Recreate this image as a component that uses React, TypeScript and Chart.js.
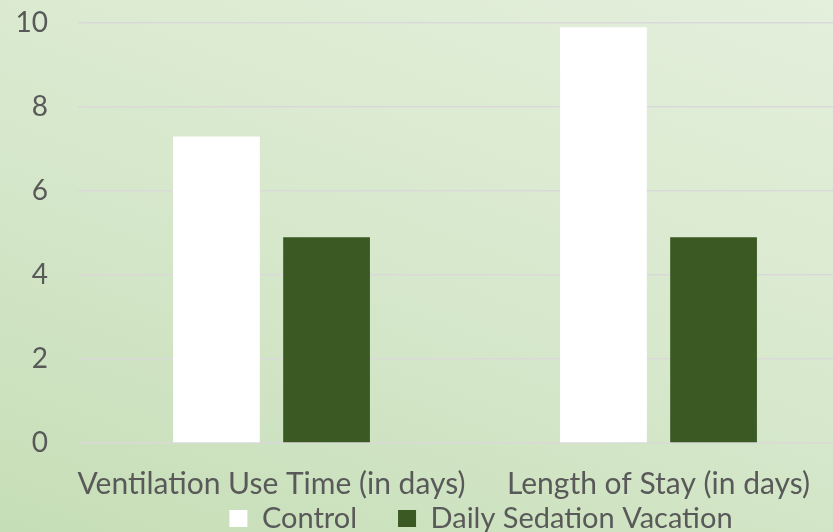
import React, { useEffect, useRef } from "react";
import { Chart, registerables } from "chart.js";

Chart.register(...registerables);

const categories = ["Ventilation Use Time (in days)", "Length of Stay (in days)"];
const controlValues = [7.3, 9.9];
const sedationValues = [4.9, 4.9];
const seriesNames = ["Control", "Daily Sedation Vacation"];
const yTickValues = [0, 2, 4, 6, 8, 10];

const FONT = "Lato";
const TEXT = "#595959";

const legendShift = {
  id: "legendShift",
  afterLayout(chart: any) {
    const l = chart.legend;
    if (!l) return;
    const dx = 55;
    const dy = -42;
    l.left += dx;
    l.right += dx;
    l.top += dy;
    l.bottom += dy;
    if (l.legendHitBoxes)
      l.legendHitBoxes.forEach((h: any) => {
        h.left += dx;
        h.top += dy;
      });
  },
};

export default function App() {
  const ref = useRef<HTMLCanvasElement | null>(null);
  useEffect(() => {
    if (!ref.current) return;
    const chart = new Chart(ref.current, {
      type: "bar",
      data: {
        labels: categories,
        datasets: [
          {
            label: seriesNames[0],
            data: controlValues,
            backgroundColor: "#ffffff",
            borderWidth: 0,
            categoryPercentage: 0.569,
            barPercentage: 0.788,
          },
          {
            label: seriesNames[1],
            data: sedationValues,
            backgroundColor: "#3a5923",
            borderWidth: 0,
            categoryPercentage: 0.569,
            barPercentage: 0.788,
          },
        ],
      },
      options: {
        animation: false,
        responsive: false,
        layout: { padding: { top: 23, bottom: -53, left: 0, right: 0 } },
        plugins: {
          tooltip: { enabled: false },
          legend: {
            position: "bottom",
            labels: {
              boxWidth: 18,
              boxHeight: 17,
              padding: 41,
              color: TEXT,
              font: { family: FONT, size: 29 },
            },
          },
        },
        scales: {
          x: {
            grid: { display: false, drawTicks: false },
            border: { display: false },
            ticks: {
              color: TEXT,
              font: { family: FONT, size: 30 },
              padding: 23,
              maxRotation: 0,
              minRotation: 0,
              autoSkip: false,
            },
            afterFit(scale: any) {
              scale.height = 62;
              scale.paddingLeft = 0;
              scale.paddingRight = 0;
            },
          },
          y: {
            min: 0,
            max: 10,
            grid: { color: "#d9d9d9", lineWidth: 1.5, drawTicks: false },
            border: { display: false },
            ticks: { color: TEXT, font: { family: FONT, size: 28 }, padding: 30 },
            afterBuildTicks(scale: any) {
              scale.ticks = yTickValues.map((v) => ({ value: v }));
            },
            afterFit(scale: any) {
              scale.width = 78;
              scale.paddingTop = 0;
              scale.paddingBottom = 0;
            },
          },
        },
      },
      plugins: [legendShift],
    });
    return () => chart.destroy();
  }, []);

  return (
    <div
      style={{
        position: "fixed",
        left: 0,
        top: 0,
        width: 833,
        height: 532,
        overflow: "hidden",
        background: "linear-gradient(200deg, #e4efdc 0%, #d7e8cc 50%, #c6deb7 100%)",
      }}
    >
      <canvas ref={ref} width={852} height={532} style={{ display: "block" }} />
    </div>
  );
}
